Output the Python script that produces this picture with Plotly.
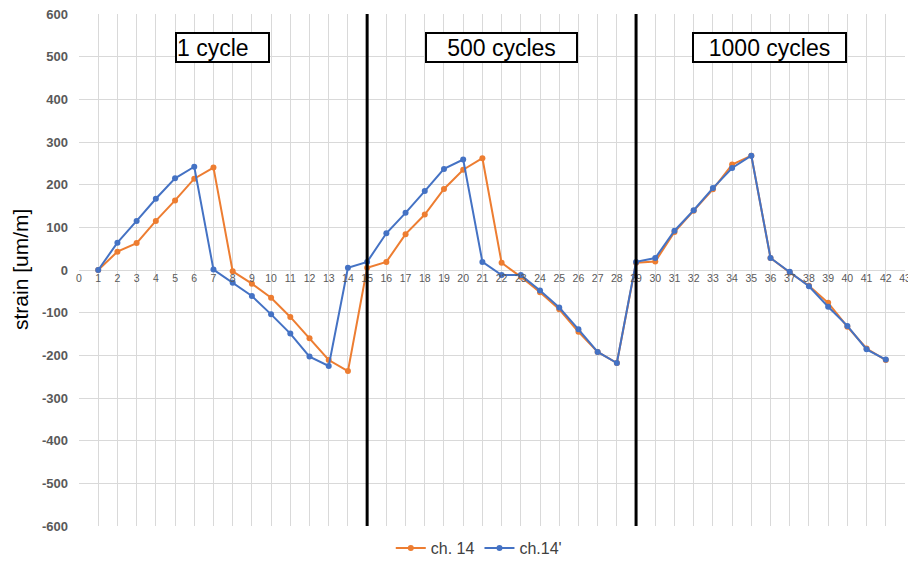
import plotly.graph_objects as go

steps = list(range(1, 43))

ch14 = [0, 43, 63, 115, 163, 214, 240, -3, -32, -65, -110, -160, -211, -237,
        5, 19, 84, 130, 190, 235, 262, 17, -16, -52, -92, -145, -192, -218,
        17, 20, 89, 139, 189, 247, 268, 28, -6, -37, -77, -133, -184, -211]

ch14p = [0, 64, 115, 167, 215, 242, 1, -30, -61, -104, -149, -203, -225, 5,
         19, 86, 134, 185, 237, 259, 19, -12, -12, -48, -88, -139, -192, -218,
         19, 28, 92, 140, 192, 239, 268, 28, -4, -38, -86, -131, -186, -210]

series_names = ["ch. 14", "ch.14'"]
series_colors = ["#ED7D31", "#4472C4"]

y_ticks = [-600, -500, -400, -300, -200, -100, 0, 100, 200, 300, 400, 500, 600]
y_ticklabels = ["-600", "-500", "-400", "-300", "-200", "-100", "0",
                "100", "200", "300", "400", "500", "600"]
x_ticks = list(range(0, 44))

cycle_boundaries = [15, 29]
cycle_labels = ["1 cycle", "500 cycles", "1000 cycles"]

fig = go.Figure()
for name, vals, col in zip(series_names, [ch14, ch14p], series_colors):
    fig.add_trace(go.Scatter(
        x=steps, y=vals, name=name, mode="lines+markers",
        line=dict(color=col, width=2),
        marker=dict(color=col, size=6),
    ))

for b in cycle_boundaries:
    fig.add_shape(type="line", x0=b, x1=b, xref="x", y0=0, y1=1, yref="paper",
                  line=dict(color="black", width=3))

ann_x = [7.47, 22.0, 35.95]
ann_w = [91, 149, 151]
ann_align = ["left", "center", "center"]
for lab, ax, w, al in zip(cycle_labels, ann_x, ann_w, ann_align):
    fig.add_annotation(x=ax, y=521, xref="x", yref="y", text=lab, showarrow=False,
                       font=dict(family="Liberation Sans, Arial", size=23, color="black"),
                       bordercolor="black", borderwidth=2, borderpad=0,
                       bgcolor="white", width=w, height=27, align=al)

fig.add_annotation(x=0, y=0.5, xref="paper", yref="paper", xanchor="center",
                   yanchor="middle", text="strain [um/m]", textangle=-90,
                   showarrow=False, xshift=-59,
                   font=dict(family="Liberation Sans, Arial", size=21, color="black"))

fig.update_layout(
    width=908, height=556,
    margin=dict(l=71, r=11, t=6, b=38, autoexpand=False),
    plot_bgcolor="white", paper_bgcolor="white",
    font=dict(family="Liberation Sans, Arial", color="#595959"),
    showlegend=True,
    legend=dict(orientation="h", x=0.484, xanchor="center", y=-0.043, yanchor="middle",
                font=dict(size=16, color="#404040"), itemwidth=30),
    xaxis=dict(range=[0, 43], tickmode="array", tickvals=x_ticks,
               showgrid=True, gridcolor="#D9D9D9", gridwidth=1,
               zeroline=False, showline=False, ticks="",
               anchor="free", position=0.5, automargin=False,
               ticklabeloverflow="allow",
               tickfont=dict(size=10.5, color="#595959")),
    yaxis=dict(range=[-600, 600], tickmode="array", tickvals=y_ticks,
               ticktext=y_ticklabels,
               showgrid=True, gridcolor="#D9D9D9", gridwidth=1,
               zeroline=True, zerolinecolor="#D9D9D9", zerolinewidth=1,
               showline=False, ticks="", automargin=False,
               ticklabelstandoff=10, ticklabeloverflow="allow",
               tickfont=dict(size=13, color="#595959", weight="bold")),
)

fig.write_html("out.html")
